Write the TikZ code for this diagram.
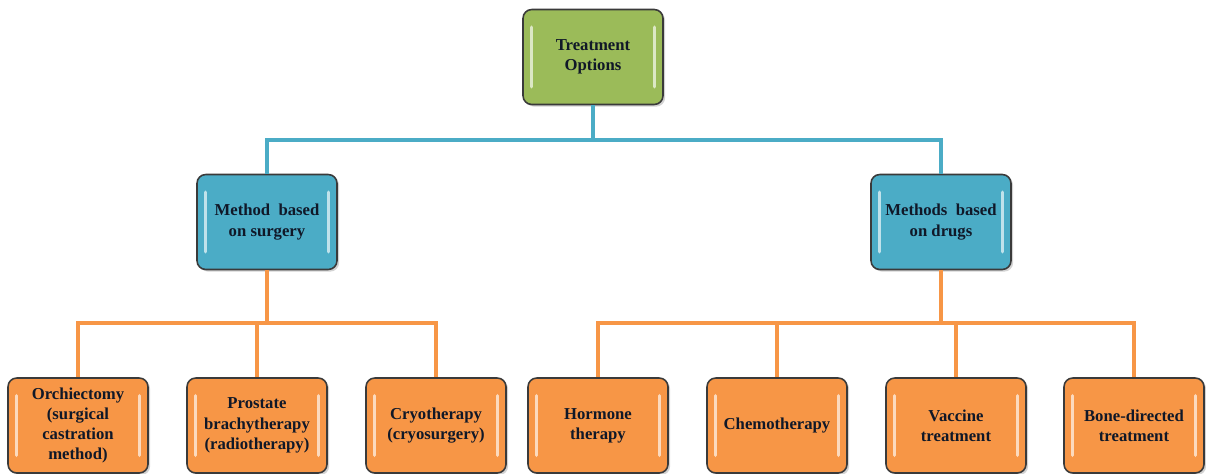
\documentclass[tikz,border=0pt]{standalone}
\usepackage{fontspec}
\setmainfont{Liberation Serif}
\usetikzlibrary{positioning, shadows}
\definecolor{LeafGreen}{HTML}{9BBB59}
\definecolor{SkyBlue}{HTML}{4BACC6}
\definecolor{Tangerine}{HTML}{F79646}
\definecolor{EdgeGray}{HTML}{3A3A3A}
\definecolor{InkNavy}{HTML}{101828}

\tikzset{
  treebox/.style={draw=EdgeGray, line width=0.9pt, rounded corners=5pt,
    minimum width=2.8cm, minimum height=1.9cm, align=center,
    text=InkNavy, font=\fontsize{9.5}{11.5}\selectfont\bfseries,
    drop shadow={shadow xshift=1.2pt, shadow yshift=-1.2pt, opacity=0.35},
    path picture={
      \draw[white!65!#1, line width=1.8pt, line cap=round]
        ([xshift=5pt, yshift=-10pt]path picture bounding box.north west) --
        ([xshift=5pt, yshift=10pt]path picture bounding box.south west);
      \draw[white!65!#1, line width=1.8pt, line cap=round]
        ([xshift=-5pt, yshift=-10pt]path picture bounding box.north east) --
        ([xshift=-5pt, yshift=10pt]path picture bounding box.south east);
    },
    fill=#1},
  bluelink/.style={draw=SkyBlue, line width=2.2pt},
  orangelink/.style={draw=Tangerine, line width=2.2pt}
}

\begin{document}
\begin{tikzpicture}
  \useasboundingbox (0,0) rectangle (24.12,9.46);

  % Root
  \node[treebox=LeafGreen] (root) at (11.86,8.32) {Treatment\\Options};

  % Second level
  \node[treebox=SkyBlue] (surgery) at (5.34,5.02) {Method\ \ based\\on surgery};
  \node[treebox=SkyBlue] (drugs) at (18.82,5.02) {Methods\ \ based\\on drugs};

  % Leaves
  \node[treebox=Tangerine] (orchi) at (1.56,0.95)
    {Orchiectomy\\(surgical\\castration\\method)};
  \node[treebox=Tangerine] (brachy) at (5.14,0.95)
    {Prostate\\brachytherapy\\(radiotherapy)};
  \node[treebox=Tangerine] (cryo) at (8.72,0.95)
    {Cryotherapy\\(cryosurgery)};
  \node[treebox=Tangerine] (hormone) at (11.96,0.95) {Hormone\\therapy};
  \node[treebox=Tangerine] (chemo) at (15.54,0.95) {Chemotherapy};
  \node[treebox=Tangerine] (vaccine) at (19.12,0.95) {Vaccine\\treatment};
  \node[treebox=Tangerine] (bone) at (22.68,0.95) {Bone-directed\\treatment};

  % Bus points
  \coordinate (rootbus) at (11.86,6.66);
  \coordinate (surgbus) at (5.34,3.0);
  \coordinate (drugbus) at (18.82,3.0);

  % Connectors
  \draw[bluelink] (root.south) -- (rootbus) -| (surgery.north);
  \draw[bluelink] (rootbus) -| (drugs.north);

  \draw[orangelink] (surgery.south) -- (surgbus);
  \draw[orangelink] (surgbus) -| (orchi.north);
  \draw[orangelink] (surgbus) -| (cryo.north);
  \draw[orangelink] (brachy.north) -- (brachy.north |- surgbus);

  \draw[orangelink] (drugs.south) -- (drugbus);
  \draw[orangelink] (drugbus) -| (hormone.north);
  \draw[orangelink] (drugbus) -| (bone.north);
  \draw[orangelink] (chemo.north) -- (chemo.north |- drugbus);
  \draw[orangelink] (vaccine.north) -- (vaccine.north |- drugbus);
\end{tikzpicture}
\end{document}
